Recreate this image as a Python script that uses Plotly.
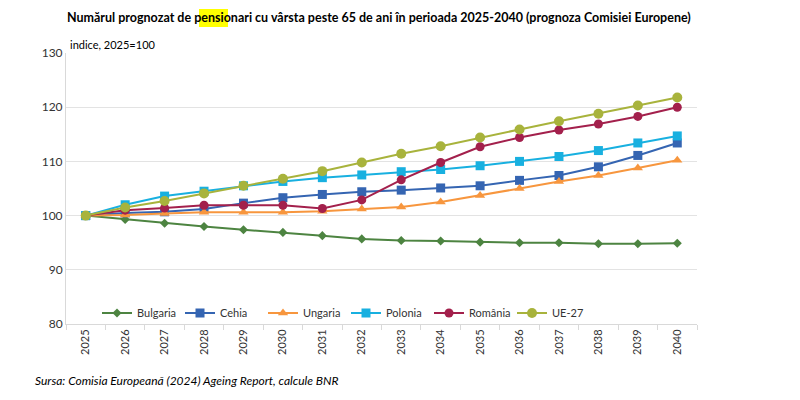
import plotly.graph_objects as go

years = [str(y) for y in range(2025, 2041)]
bulgaria = [100, 99.3, 98.6, 98.0, 97.4, 96.9, 96.3, 95.7, 95.4, 95.3, 95.1, 95.0, 95.0, 94.8, 94.8, 94.9]
cehia = [100, 100.5, 100.7, 101.2, 102.3, 103.3, 103.9, 104.4, 104.7, 105.1, 105.5, 106.5, 107.4, 109.0, 111.1, 113.4]
ungaria = [100, 100.1, 100.4, 100.6, 100.6, 100.6, 100.8, 101.2, 101.6, 102.5, 103.7, 105.0, 106.3, 107.4, 108.8, 110.2]
polonia = [100, 102.0, 103.6, 104.5, 105.5, 106.3, 107.0, 107.5, 108.1, 108.5, 109.2, 110.0, 110.9, 112.0, 113.4, 114.7]
romania = [100, 101.0, 101.4, 101.9, 101.9, 101.9, 101.3, 102.9, 106.6, 109.8, 112.7, 114.4, 115.8, 116.9, 118.3, 120.0]
ue27 = [100, 101.5, 102.7, 104.1, 105.5, 106.8, 108.2, 109.8, 111.4, 112.8, 114.4, 115.9, 117.4, 118.8, 120.3, 121.8]

series = [
    ("Bulgaria", bulgaria, "#4d8441", "diamond", 7),
    ("Cehia", cehia, "#3565b2", "square", 9),
    ("Ungaria", ungaria, "#f7963e", "triangle-up", 9),
    ("Polonia", polonia, "#18b0e0", "square", 9),
    ("România", romania, "#a3204c", "circle", 9),
    ("UE-27", ue27, "#a8b33c", "circle", 10),
]

fig = go.Figure()
for name, vals, color, sym, sz in series:
    fig.add_trace(go.Scatter(
        x=years, y=vals, name=name, mode="lines+markers",
        line=dict(color=color, width=2),
        marker=dict(symbol=sym, size=sz, color=color),
    ))

L, R, T, B = 66, 103, 53, 76
PW, PH = 800 - L - R, 400 - T - B

def px(x):
    return (x - L) / PW

def py(y):
    return (400 - B - y) / PH

fig.update_layout(
    width=800, height=400,
    margin=dict(l=L, r=R, t=T, b=B),
    paper_bgcolor="white", plot_bgcolor="white",
    font=dict(family="Lato", size=11, color="#333333"),
    showlegend=True,
    legend=dict(orientation="h", x=px(97), y=py(313), xanchor="left", yanchor="middle",
                font=dict(size=11, color="#333333"), bgcolor="rgba(0,0,0,0)",
                itemwidth=30, tracegroupgap=0,
                entrywidth=38, entrywidthmode="pixels"),
    xaxis=dict(type="category", range=[-0.5, 15.5], tickangle=-90, showgrid=False,
               showline=True, linecolor="#d9d9d9", linewidth=1,
               ticks="outside", tickson="boundaries", ticklen=5, tickcolor="#d9d9d9",
               tickfont=dict(size=11, color="#333333")),
    yaxis=dict(range=[80, 130], tickvals=[80, 90, 100, 110, 120, 130],
               showgrid=True, gridcolor="#e3e3e3", gridwidth=1,
               showline=True, linecolor="#d9d9d9", linewidth=1,
               zeroline=False, tickfont=dict(size=12, color="#333333")),
)

fig.add_shape(type="rect", xref="paper", yref="paper",
              x0=px(199), x1=px(228), y0=py(27), y1=py(9),
              fillcolor="#ffff00", line=dict(width=0), layer="below")

fig.add_annotation(text="<b>Numărul prognozat de pensionari cu vârsta peste 65 de ani în perioada 2025-2040 (prognoza Comisiei Europene)</b>",
                   xref="paper", yref="paper", x=px(65), y=py(18), xanchor="left", yanchor="middle",
                   showarrow=False, font=dict(size=12.5, color="#000000"))
fig.add_annotation(text="indice, 2025=100", xref="paper", yref="paper",
                   x=px(68), y=py(45), xanchor="left", yanchor="middle",
                   showarrow=False, font=dict(size=11, color="#000000"))
fig.add_annotation(text="<i>Sursa: Comisia Europeană (2024) Ageing Report, calcule BNR</i>",
                   xref="paper", yref="paper", x=px(33), y=py(380), xanchor="left", yanchor="middle",
                   showarrow=False, font=dict(size=12, color="#000000"))

fig.write_html("out.html")
